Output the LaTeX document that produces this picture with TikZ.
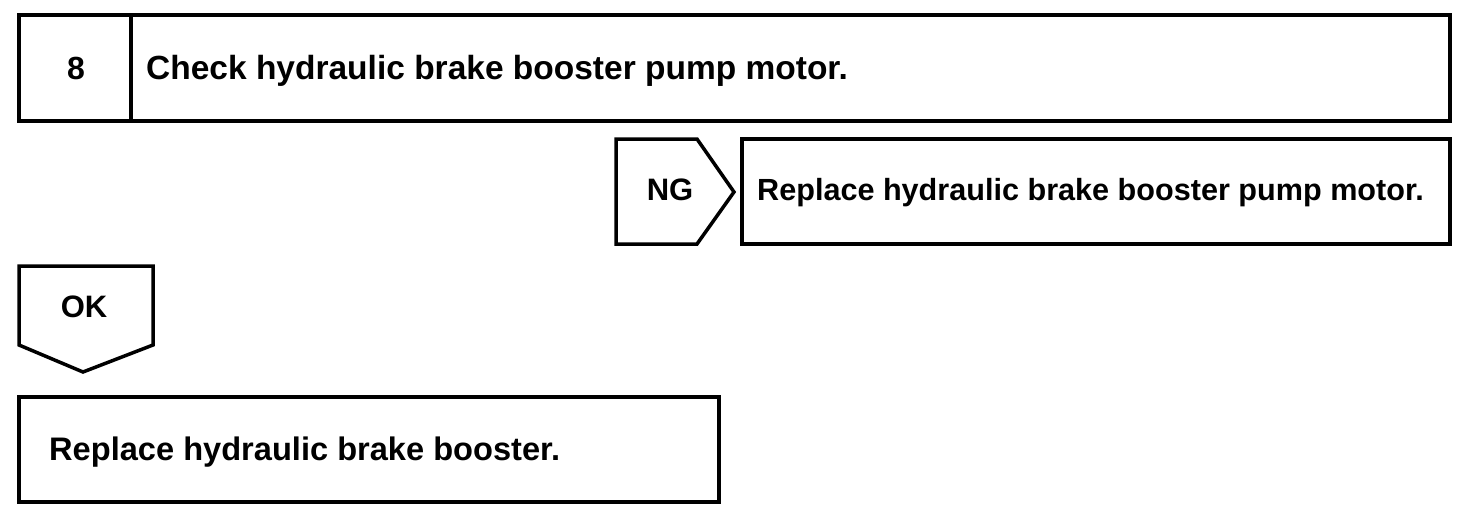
\documentclass[tikz,border=0pt]{standalone}
\usepackage{fontspec}
\setmainfont{Liberation Sans}
\usetikzlibrary{positioning}

\begin{document}
\begin{tikzpicture}[x=1pt,y=-1pt,
    frame/.style={draw=black, line width=3.5pt, line join=miter},
    txt/.style={font=\fontsize{#1}{40}\selectfont\bfseries, inner sep=0pt},
    txt/.default=31]
  \useasboundingbox (0,0) rectangle (1472,530);

  % step header
  \draw[frame] (19,15) rectangle (1450,121);
  \draw[frame] (131,15) -- (131,121);
  \node[txt=32, anchor=base] (stepno) at (76,79) {8};
  \node[txt=33.5, anchor=base west] (check) at (146,79) {Check hydraulic brake booster pump motor.};

  % NG branch
  \draw[frame] (616,139) -- (697,139) -- (734,192) -- (697,244) -- (616,244) -- cycle;
  \node[txt, anchor=base] (ng) at (670,200) {NG};
  \draw[frame] (742,139) rectangle (1450,244);
  \node[txt=30.6, anchor=base west] (repmotor) at (757,200) {Replace hydraulic brake booster pump motor.};

  % OK branch
  \draw[frame] (19,266) -- (153,266) -- (153,345) -- (83,372) -- (19,345) -- cycle;
  \node[txt, anchor=base] (ok) at (84,317) {OK};
  \draw[frame] (19,397) rectangle (719,502);
  \node[txt=32.6, anchor=base west] (repbooster) at (49,460) {Replace hydraulic brake booster.};
\end{tikzpicture}
\end{document}
